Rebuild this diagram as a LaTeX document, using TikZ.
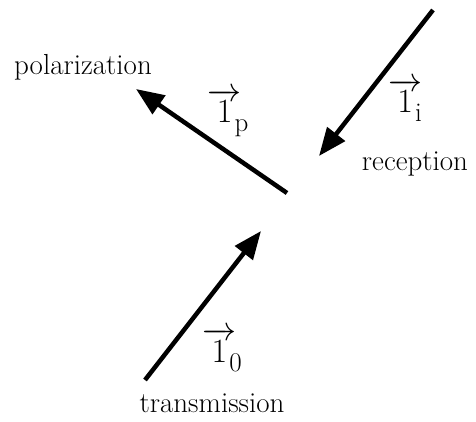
\documentclass[tikz,border=0pt]{standalone}
\usepackage{fix-cm}
\usetikzlibrary{arrows.meta}
\newcommand{\veclabel}[1]{$\overrightarrow{\mbox{1}}$\kern-7pt\raisebox{-9pt}{\fontsize{27}{32}\selectfont #1}}
\begin{document}
\begin{tikzpicture}[x=1pt,y=-1pt,
  vecarrow/.style={line width=4.5pt,-{Triangle[length=28pt,width=22pt]}},
  lbl/.style={font=\fontsize{29}{34}\selectfont,inner sep=0pt},
  vlbl/.style={font=\fontsize{34}{40}\selectfont,inner sep=0pt}]
\useasboundingbox (0,0) rectangle (476,421);
\coordinate (pstart) at (287,193);
\coordinate (pend) at (136,89);
\coordinate (istart) at (433,10);
\coordinate (iend) at (319,156);
\coordinate (ostart) at (145,380);
\coordinate (oend) at (261,231);
\draw[vecarrow] (pstart) -- (pend);
\draw[vecarrow] (istart) -- (iend);
\draw[vecarrow] (ostart) -- (oend);
\node[lbl] (pol) at (83,67) {polarization};
\node[lbl] (rec) at (415,164) {reception};
\node[lbl] (tra) at (212,403) {transmission};
\node[vlbl] (lp) at (228,113) {\veclabel{p}};
\node[vlbl] (li) at (405,100) {\veclabel{i}};
\node[vlbl] (lo) at (222,350) {\veclabel{0}};
\end{tikzpicture}
\end{document}
